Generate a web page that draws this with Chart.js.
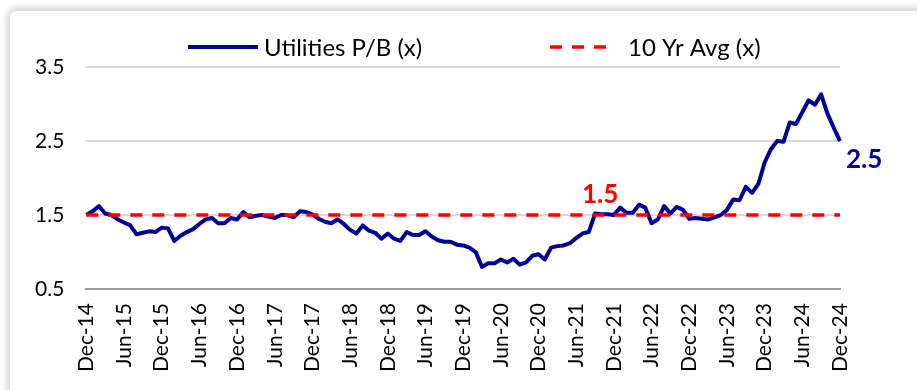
<!DOCTYPE html>
<html>
<head>
<meta charset="utf-8">
<script src="https://cdn.jsdelivr.net/npm/chart.js@4.4.1/dist/chart.umd.min.js"></script>
<style>
  html, body { margin: 0; padding: 0; background: #fff; overflow: hidden; }
  .frame {
    position: absolute; left: 10px; top: 11px; width: 1000px; height: 500px;
    background: #fff; border-radius: 6px;
    box-shadow: 0 0 9px 2px rgba(0, 0, 0, 0.22);
  }
  #chart { position: absolute; left: 0; top: 0; }
</style>
</head>
<body>
<div class="frame"></div>
<canvas id="chart" width="917" height="390"></canvas>
<script>
// monthly utilities price-to-book, Dec-14 .. Dec-24
const monthNames = ["Jan", "Feb", "Mar", "Apr", "May", "Jun", "Jul", "Aug", "Sep", "Oct", "Nov", "Dec"];
const startYear = 2014;
const startMonth = 11; // Dec

const pbValues = [
  1.50, 1.55, 1.62, 1.52, 1.50, 1.44, 1.40, 1.36, 1.24, 1.26, 1.28, 1.27,
  1.33, 1.32, 1.15, 1.22, 1.27, 1.31, 1.38, 1.44, 1.46, 1.39, 1.39, 1.46,
  1.44, 1.54, 1.47, 1.49, 1.50, 1.48, 1.46, 1.50, 1.50, 1.47, 1.55, 1.54,
  1.51, 1.45, 1.41, 1.39, 1.44, 1.38, 1.30, 1.25, 1.36, 1.29, 1.26, 1.18,
  1.25, 1.18, 1.15, 1.27, 1.23, 1.23, 1.28, 1.21, 1.16, 1.14, 1.14, 1.10,
  1.09, 1.06, 1.00, 0.80, 0.85, 0.85, 0.90, 0.86, 0.91, 0.83, 0.86, 0.95,
  0.97, 0.90, 1.06, 1.08, 1.09, 1.12, 1.19, 1.25, 1.27, 1.52, 1.51, 1.51,
  1.50, 1.60, 1.53, 1.53, 1.64, 1.60, 1.39, 1.44, 1.62, 1.52, 1.61, 1.57,
  1.45, 1.46, 1.45, 1.44, 1.47, 1.50, 1.57, 1.71, 1.70, 1.88, 1.80, 1.92,
  2.21, 2.39, 2.50, 2.49, 2.75, 2.73, 2.89, 3.05, 2.99, 3.13, 2.87, 2.68,
  2.50
];
const avg10y = 1.5;
const yTicks = [0.5, 1.5, 2.5, 3.5];
const tickEvery = 6;
const avgLabelIndex = 81.8;

const labels = pbValues.map((v, i) => {
  const m = (startMonth + i) % 12;
  const y = startYear + Math.floor((startMonth + i) / 12);
  return monthNames[m] + "-" + String(y).slice(2);
});

const BLUE = "#000099";
const RED = "#ff0000";
const FONT = "Lato";

// legend drawn by hand so the two entries sit where they should
const legendPlugin = {
  id: "lineLegend",
  afterDraw(chart) {
    const ctx = chart.ctx;
    const items = [
      { ds: chart.data.datasets[1], x0: 188, x1: 258, tx: 264 },
      { ds: chart.data.datasets[0], x0: 544, x1: 614, tx: 628, off: -6 }
    ];
    const y = 47;
    ctx.save();
    items.forEach((it) => {
      ctx.beginPath();
      ctx.strokeStyle = it.ds.borderColor;
      ctx.lineWidth = it.ds.borderWidth;
      ctx.setLineDash(it.ds.borderDash || []);
      ctx.lineDashOffset = it.off || 0;
      ctx.moveTo(it.x0, y);
      ctx.lineTo(it.x1, y);
      ctx.stroke();
      ctx.setLineDash([]);
      ctx.fillStyle = "#000";
      ctx.font = "24px " + FONT;
      ctx.textBaseline = "middle";
      ctx.textAlign = "left";
      ctx.fillText(it.ds.label, it.tx, y + 1);
    });
    ctx.restore();
  }
};

// value callouts for the average and the latest reading
const calloutPlugin = {
  id: "callouts",
  afterDatasetsDraw(chart) {
    const { ctx, scales } = chart;
    const last = pbValues.length - 1;
    ctx.save();
    ctx.font = "bold 26px " + FONT;
    ctx.textBaseline = "alphabetic";

    ctx.fillStyle = RED;
    ctx.textAlign = "center";
    ctx.fillText(avg10y.toFixed(1), scales.x.getPixelForValue(avgLabelIndex), scales.y.getPixelForValue(avg10y) - 12);

    ctx.fillStyle = BLUE;
    ctx.textAlign = "left";
    ctx.fillText(pbValues[last].toFixed(1), scales.x.getPixelForValue(last) + 6, scales.y.getPixelForValue(pbValues[last]) + 27);
    ctx.restore();
  }
};

new Chart(document.getElementById("chart"), {
  type: "line",
  data: {
    labels: labels,
    datasets: [
      {
        label: "10 Yr Avg (x)",
        data: labels.map(() => avg10y),
        borderColor: RED,
        borderWidth: 3.5,
        borderDash: [12, 10],
        pointRadius: 0,
        tension: 0,
        order: 0
      },
      {
        label: "Utilities P/B (x)",
        data: pbValues,
        borderColor: BLUE,
        borderWidth: 4,
        pointRadius: 0,
        tension: 0,
        borderJoinStyle: "round",
        order: 1
      }
    ]
  },
  options: {
    responsive: false,
    animation: false,
    layout: { padding: { left: 13, right: 77, top: 67, bottom: 4 } },
    plugins: {
      legend: { display: false },
      tooltip: { enabled: false }
    },
    scales: {
      x: {
        offset: false,
        grid: { display: false, drawTicks: false },
        border: { display: true, color: "#9a9a9a", width: 2 },
        ticks: {
          autoSkip: false,
          maxRotation: 90,
          minRotation: 90,
          padding: 14,
          color: "#000",
          font: { family: FONT, size: 21 },
          callback: (v, i) => (i % tickEvery === 0 ? labels[i] : "")
        }
      },
      y: {
        min: yTicks[0],
        max: yTicks[yTicks.length - 1],
        afterBuildTicks: (axis) => { axis.ticks = yTicks.map((v) => ({ value: v })); },
        grid: { color: "#d9d9d9", lineWidth: 2, drawTicks: false },
        border: { display: false },
        ticks: {
          padding: 22,
          color: "#000",
          font: { family: FONT, size: 21 },
          callback: (v) => v.toFixed(1)
        }
      }
    }
  },
  plugins: [legendPlugin, calloutPlugin]
});
</script>
</body>
</html>
